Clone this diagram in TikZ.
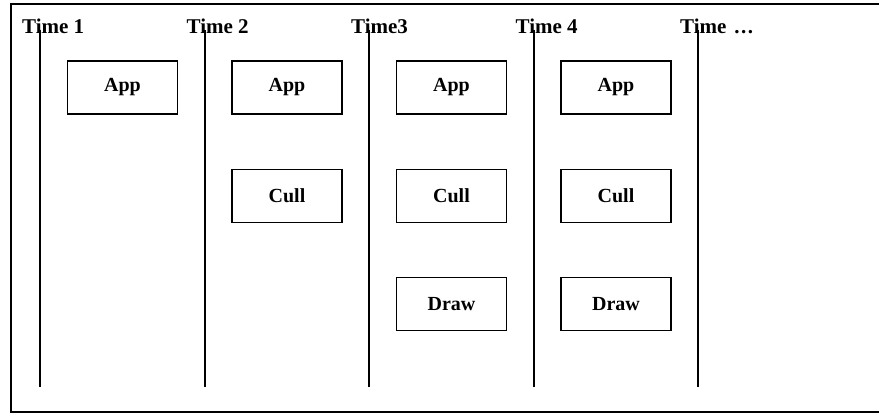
\documentclass[tikz,border=0pt]{standalone}
\usepackage{fontspec}
\setmainfont{Liberation Serif}

\begin{document}
\begin{tikzpicture}[
  x=1pt, y=-1pt,
  stage/.style={rectangle, draw, line width=1.1pt, minimum width=110pt, minimum height=53pt, font=\fontsize{20}{24}\selectfont\bfseries, inner sep=0pt},
  tlabel/.style={anchor=base west, inner sep=0pt, font=\fontsize{21}{25}\selectfont\bfseries},
  tline/.style={line width=2pt}
]
\useasboundingbox (0,0) rectangle (879,414);
% outer frame, runs off the right edge
\draw[line width=1.2pt] (11,4) rectangle (900,412);

% time lines
\foreach \i/\txt in {1/Time 1, 2/Time 2, 3/Time3, 4/Time 4, 5/{Time\hspace{8pt}.\hspace{1.5pt}.\hspace{1.5pt}.}} {
  \node[tlabel] (time\i) at ({22+164.5*(\i-1)},34) {\txt};
  \coordinate (top\i) at ({40+164.5*(\i-1)},30);
  \coordinate (bot\i) at ({40+164.5*(\i-1)},387);
  \draw[tline] (top\i) -- (bot\i);
}

% stages
\foreach \i in {1,...,4}
  \node[stage] (app\i) at ({122.5+164.5*(\i-1)},87.5) {App};
\foreach \i in {2,...,4}
  \node[stage] (cull\i) at ({122.5+164.5*(\i-1)},196) {Cull};
\foreach \i in {3,4}
  \node[stage] (draw\i) at ({122.5+164.5*(\i-1)},304) {Draw};
\end{tikzpicture}
\end{document}
